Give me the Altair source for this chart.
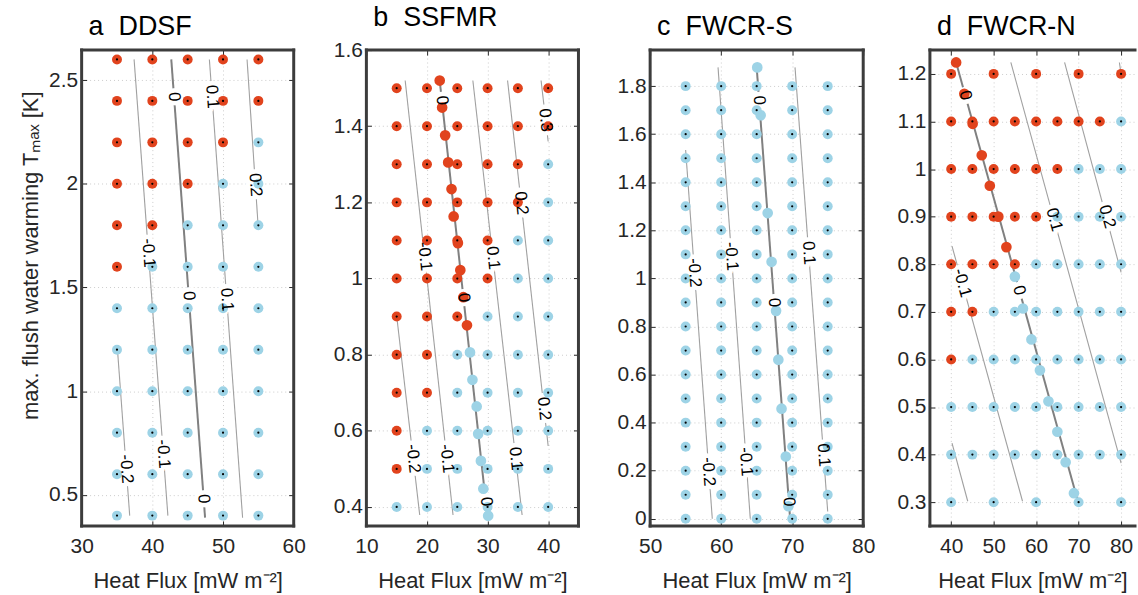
import altair as alt
import pandas as pd

RED = "#e1431d"
BLUE = "#9dd3e6"
FONT = "Liberation Sans"
XTITLE = "Heat Flux [mW m\u207b\u00b2]"
YTITLE = "max. flush water warming T\u2098\u2090\u2093 [K]"

# ---------------- a  DDSF ----------------
a_grid_x = [35, 40, 45, 50, 55]
a_grid_y = [2.6, 2.4, 2.2, 2.0, 1.8, 1.6, 1.4, 1.2, 1.0, 0.8, 0.6, 0.4]
a_state = ["RRRRR", "RRRRR", "RRRRB", "RRRBB", "RRBBB", "RBBBB",
           "BBBBB", "BBBBB", "BBBBB", "BBBBB", "BBBBB", "BBBBB"]
a_off_x, a_off_y, a_off_state = [], [], ""
a_cont_level = [-0.2, -0.1, 0.0, 0.1, 0.2]
a_cont_x0 = [35.07, 37.42, 42.68, 48.07, 53.4]
a_cont_y0 = [1.20, 2.60, 2.60, 2.60, 2.60]
a_cont_x1 = [36.80, 42.20, 47.46, 52.77, 55.0]
a_cont_y1 = [0.40, 0.40, 0.39, 0.39, 1.78]
a_lab_text = ["-0.2", "-0.1", "-0.1", "0", "0", "0", "0.1", "0.1", "0.2"]
a_lab_x = [36.31, 39.44, 41.55, 43.07, 45.15, 47.26, 48.45, 50.53, 54.58]
a_lab_y = [0.625, 1.667, 0.697, 2.42, 1.46, 0.481, 2.42, 1.442, 1.995]

# ---------------- b  SSFMR ----------------
b_grid_x = [15, 20, 25, 30, 35, 40]
b_grid_y = [1.5, 1.4, 1.3, 1.2, 1.1, 1.0, 0.9, 0.8, 0.7, 0.6, 0.5, 0.4]
b_state = ["RRRRRR", "RRRRRR", "RRRRRB", "RRRRRB", "RRRRBB", "RRRRBB",
           "RRRBBB", "RRBBBB", "RRBBBB", "RBBBBB", "RBBBBB", "BBBBBB"]
b_off_x = [22.1, 22.5, 23.0, 23.5, 24.05, 24.4, 25.1, 25.5, 26.0, 26.6,
           27.1, 27.5, 28.2, 28.45, 28.9, 29.3, 30.1]
b_off_y = [1.52, 1.449, 1.376, 1.305, 1.235, 1.163, 1.093, 1.022, 0.951, 0.877,
           0.806, 0.734, 0.664, 0.592, 0.521, 0.448, 0.377]
b_off_state = "RRRRRRRRRRBBBBBBB"
b_cont_level = [-0.2, -0.1, 0.0, 0.1, 0.2, 0.3]
b_cont_x0 = [14.94, 16.4, 22.1, 27.57, 33.3, 38.83]
b_cont_y0 = [0.91, 1.52, 1.52, 1.52, 1.52, 1.52]
b_cont_x1 = [18.8, 24.3, 30.0, 35.7, 40.0, 40.0]
b_cont_y1 = [0.379, 0.379, 0.37, 0.379, 0.56, 1.36]
b_lab_text = ["-0.2", "-0.1", "-0.1", "0", "0", "0", "0.1", "0.1", "0.2", "0.2", "0.3"]
b_lab_x = [17.72, 19.6, 23.27, 22.46, 26.05, 29.77, 30.89, 34.64, 35.55, 39.32, 39.55]
b_lab_y = [0.527, 1.058, 0.527, 1.468, 0.95, 0.414, 1.054, 0.527, 1.198, 0.658, 1.416]

# ---------------- c  FWCR-S ----------------
c_grid_x = [55, 60, 65, 70, 75]
c_grid_y = [1.8, 1.7, 1.6, 1.5, 1.4, 1.3, 1.2, 1.1, 1.0, 0.9,
            0.8, 0.7, 0.6, 0.5, 0.4, 0.3, 0.2, 0.1, 0.0]
c_state = ["BBBBB"] * 19
c_off_x = [65.08, 65.56, 66.55, 67.1, 67.73, 68.05, 68.5, 69.1, 69.47]
c_off_y = [1.878, 1.679, 1.272, 1.069, 0.865, 0.662, 0.458, 0.259, 0.052]
c_off_state = "BBBBBBBBB"
c_cont_level = [-0.2, -0.1, 0.0, 0.1]
c_cont_x0 = [55.0, 59.56, 65.0, 70.4]
c_cont_y0 = [1.534, 1.878, 1.878, 1.878]
c_cont_x1 = [58.75, 64.1, 69.7, 75.0]
c_cont_y1 = [0.0, 0.0, 0.004, 0.03]
c_lab_text = ["-0.2", "-0.2", "-0.1", "-0.1", "0", "0", "0", "0.1", "0.1"]
c_lab_x = [56.23, 58.2, 61.43, 63.46, 65.34, 67.45, 69.53, 72.32, 74.41]
c_lab_y = [1.024, 0.196, 1.092, 0.2375, 1.7406, 0.8995, 0.0707, 1.106, 0.2648]

# ---------------- d  FWCR-N ----------------
d_grid_x = [40, 45, 50, 55, 60, 65, 70, 75, 80]
d_grid_y = [1.2, 1.1, 1.0, 0.9, 0.8, 0.7, 0.6, 0.5, 0.4, 0.3]
d_state = ["R.R.R.R.R", "RRRRRRRRB", "RRRRRRBBB", "RRRRRBBBB", "RRRRBBBBB",
           "RRBBBBBBB", "RBBBBBBBB", "BBBBBBBBB", "BBBBBBBBB", "B.B.B.B.B"]
d_off_x = [41.17, 43.1, 45.06, 47.2, 49.1, 51.1, 53.0, 55.0, 56.9, 58.9,
           60.9, 62.9, 65.0, 66.95, 68.9]
d_off_y = [1.224, 1.158, 1.095, 1.029, 0.965, 0.90, 0.836, 0.774, 0.707, 0.642,
           0.577, 0.512, 0.448, 0.384, 0.319]
d_off_state = "RRRRRRRBBBBBBBB"
d_cont_level = [-0.2, -0.1, 0.0, 0.1, 0.2, 0.3]
d_cont_x0 = [40.2, 40.2, 41.17, 54.05, 66.7, 79.6]
d_cont_y0 = [0.424, 0.838, 1.224, 1.224, 1.224, 1.224]
d_cont_x1 = [43.9, 56.8, 69.9, 80.0, 80.0, 80.0]
d_cont_y1 = [0.302, 0.302, 0.30, 0.382, 0.783, 1.20]
d_lab_text = ["-0.1", "0", "0", "0.1", "0.2"]
d_lab_x = [42.6, 43.33, 56.0, 64.24, 76.7]
d_lab_y = [0.7606, 1.1545, 0.745, 0.8935, 0.90]


def grid_df(xs, ys, states):
    rows = []
    for y, st in zip(ys, states):
        for x, s in zip(xs, st):
            if s != ".":
                rows.append({"x": x, "y": y, "s": s})
    return pd.DataFrame(rows)


def off_df(xs, ys, st):
    return pd.DataFrame({"x": xs, "y": ys, "s": list(st)})


def cont_df(lv, x0, y0, x1, y1):
    rows = []
    for i, (l, a, b, c, d) in enumerate(zip(lv, x0, y0, x1, y1)):
        rows.append({"id": i, "level": l, "ord": 0, "x": a, "y": b})
        rows.append({"id": i, "level": l, "ord": 1, "x": c, "y": d})
    return pd.DataFrame(rows)


def lab_df(t, x, y):
    return pd.DataFrame({"t": t, "x": x, "y": y})


def panel(title, G, O, C, L, xdom, ydom, xticks, yticks, width, angle,
          yaxis_kw, right=True):
    xs = alt.Scale(domain=xdom, nice=False, zero=False)
    ys = alt.Scale(domain=ydom, nice=False, zero=False)

    def nx(f="x:Q"):
        return alt.X(f, scale=xs, axis=None)

    def ny(f="y:Q"):
        return alt.Y(f, scale=ys, axis=None)

    xaxis = alt.Axis(values=xticks, format=".2~f", title=XTITLE, grid=True,
                     labelFlush=False, offset=-5, tickSize=5, domain=False,
                     labelPadding=10, titlePadding=14)
    yaxis = alt.Axis(values=yticks, format=".2~f", grid=True, offset=-5,
                     tickSize=5, domain=False, labelPadding=4, **yaxis_kw)
    color = alt.Color("s:N", scale=alt.Scale(domain=["R", "B"], range=[RED, BLUE]),
                      legend=None)

    layers = []
    layers.append(alt.Chart(C[C.level != 0]).mark_line(color="#a0a0a0", strokeWidth=1.1)
                  .encode(x=nx(), y=ny(), detail="id:N", order="ord:Q"))
    layers.append(alt.Chart(C[C.level == 0]).mark_line(color="#808080", strokeWidth=2)
                  .encode(x=nx(), y=ny(), detail="id:N", order="ord:Q"))
    layers.append(alt.Chart(L).mark_text(angle=angle, fontSize=17, font=FONT,
                                         color="white", stroke="white", strokeWidth=9,
                                         strokeJoin="round")
                  .encode(x=nx(), y=ny(), text="t:N"))
    layers.append(alt.Chart(G).mark_circle(size=100, opacity=1)
                  .encode(x=alt.X("x:Q", scale=xs, axis=xaxis),
                          y=alt.Y("y:Q", scale=ys, axis=yaxis), color=color))
    if len(O):
        layers.append(alt.Chart(O).mark_circle(size=115, opacity=1)
                      .encode(x=nx(), y=ny(), color=color))
    layers.append(alt.Chart(G).mark_circle(size=5, color="black", opacity=1)
                  .encode(x=nx(), y=ny()))
    layers.append(alt.Chart(L).mark_text(angle=angle, fontSize=17, font=FONT, color="black")
                  .encode(x=nx(), y=ny(), text="t:N"))
    FX = pd.DataFrame({"fx": [xdom[0], xdom[1]] if right else [xdom[0]]})
    FY = pd.DataFrame({"fy": list(ydom)})
    layers.append(alt.Chart(FX).mark_rule(color="#3c3c3c", strokeWidth=3, strokeCap="square")
                  .encode(x=nx("fx:Q")))
    layers.append(alt.Chart(FY).mark_rule(color="#3c3c3c", strokeWidth=3, strokeCap="square")
                  .encode(y=ny("fy:Q")))
    top_ax = alt.Axis(orient="top", values=xticks, labels=False, title=None, grid=False,
                      domain=False, offset=-5, tickSize=5)
    right_ax = alt.Axis(orient="right", values=yticks, labels=False, title=None,
                        grid=False, domain=False, offset=-5, tickSize=5,
                        minExtent=0, maxExtent=0)
    layers.append(alt.Chart(G).mark_circle(opacity=0)
                  .encode(x=alt.X("x:Q", scale=xs, axis=top_ax),
                          y=alt.Y("y:Q", scale=ys, axis=right_ax if right else None)))
    return (alt.layer(*layers)
            .resolve_axis(x="independent", y="independent")
            .properties(width=width, height=478,
                        title=alt.TitleParams(title, anchor="start", frame="group",
                                              dx=7, offset=7)))


NB = "\u00a0\u00a0"
pa = panel("a" + NB + "DDSF",
           grid_df(a_grid_x, a_grid_y, a_state), off_df(a_off_x, a_off_y, a_off_state),
           cont_df(a_cont_level, a_cont_x0, a_cont_y0, a_cont_x1, a_cont_y1),
           lab_df(a_lab_text, a_lab_x, a_lab_y),
           [30, 60], [0.35, 2.645], [30, 40, 50, 60], [0.5, 1, 1.5, 2, 2.5],
           213, 86,
           dict(title=YTITLE, titlePadding=4, titleY=206, titleFontSize=22,
                minExtent=40, maxExtent=40))
pb = panel("b" + NB + "SSFMR",
           grid_df(b_grid_x, b_grid_y, b_state), off_df(b_off_x, b_off_y, b_off_state),
           cont_df(b_cont_level, b_cont_x0, b_cont_y0, b_cont_x1, b_cont_y1),
           lab_df(b_lab_text, b_lab_x, b_lab_y),
           [10, 45], [0.35, 1.6], [10, 20, 30, 40], [0.4, 0.6, 0.8, 1.0, 1.2, 1.4, 1.6],
           213, 84,
           dict(title=None, minExtent=58, maxExtent=58))
pc = panel("c" + NB + "FWCR-S",
           grid_df(c_grid_x, c_grid_y, c_state), off_df(c_off_x, c_off_y, c_off_state),
           cont_df(c_cont_level, c_cont_x0, c_cont_y0, c_cont_x1, c_cont_y1),
           lab_df(c_lab_text, c_lab_x, c_lab_y),
           [50, 80], [-0.03, 1.95], [50, 60, 70, 80],
           [0, 0.2, 0.4, 0.6, 0.8, 1.0, 1.2, 1.4, 1.6, 1.8],
           214, 86,
           dict(title=None, minExtent=66, maxExtent=66))
pd_ = panel("d" + NB + "FWCR-N",
            grid_df(d_grid_x, d_grid_y, d_state), off_df(d_off_x, d_off_y, d_off_state),
            cont_df(d_cont_level, d_cont_x0, d_cont_y0, d_cont_x1, d_cont_y1),
            lab_df(d_lab_text, d_lab_x, d_lab_y),
            [35, 83.28], [0.25, 1.25], [40, 50, 60, 70, 80],
            [0.3, 0.4, 0.5, 0.6, 0.7, 0.8, 0.9, 1.0, 1.1, 1.2],
            206, 74.5,
            dict(title=None, minExtent=52, maxExtent=52), right=False)

chart = (alt.hconcat(pa, pb, pc, pd_, spacing=8)
         .properties(padding={"left": 20, "top": 3, "right": 0, "bottom": 0})
         .configure_view(stroke=None)
         .configure_axis(labelFont=FONT, labelFontSize=21, labelColor="#262626",
                         titleFont=FONT, titleFontSize=22, titleFontWeight="normal",
                         titleColor="#262626", tickColor="#262626", tickWidth=1,
                         gridColor="#cccccc", gridDash=[1, 3], gridWidth=1)
         .configure_title(font=FONT, fontSize=27, fontWeight="normal", color="black"))

chart.save("out.html", embed_options={"renderer": "svg", "actions": False})
